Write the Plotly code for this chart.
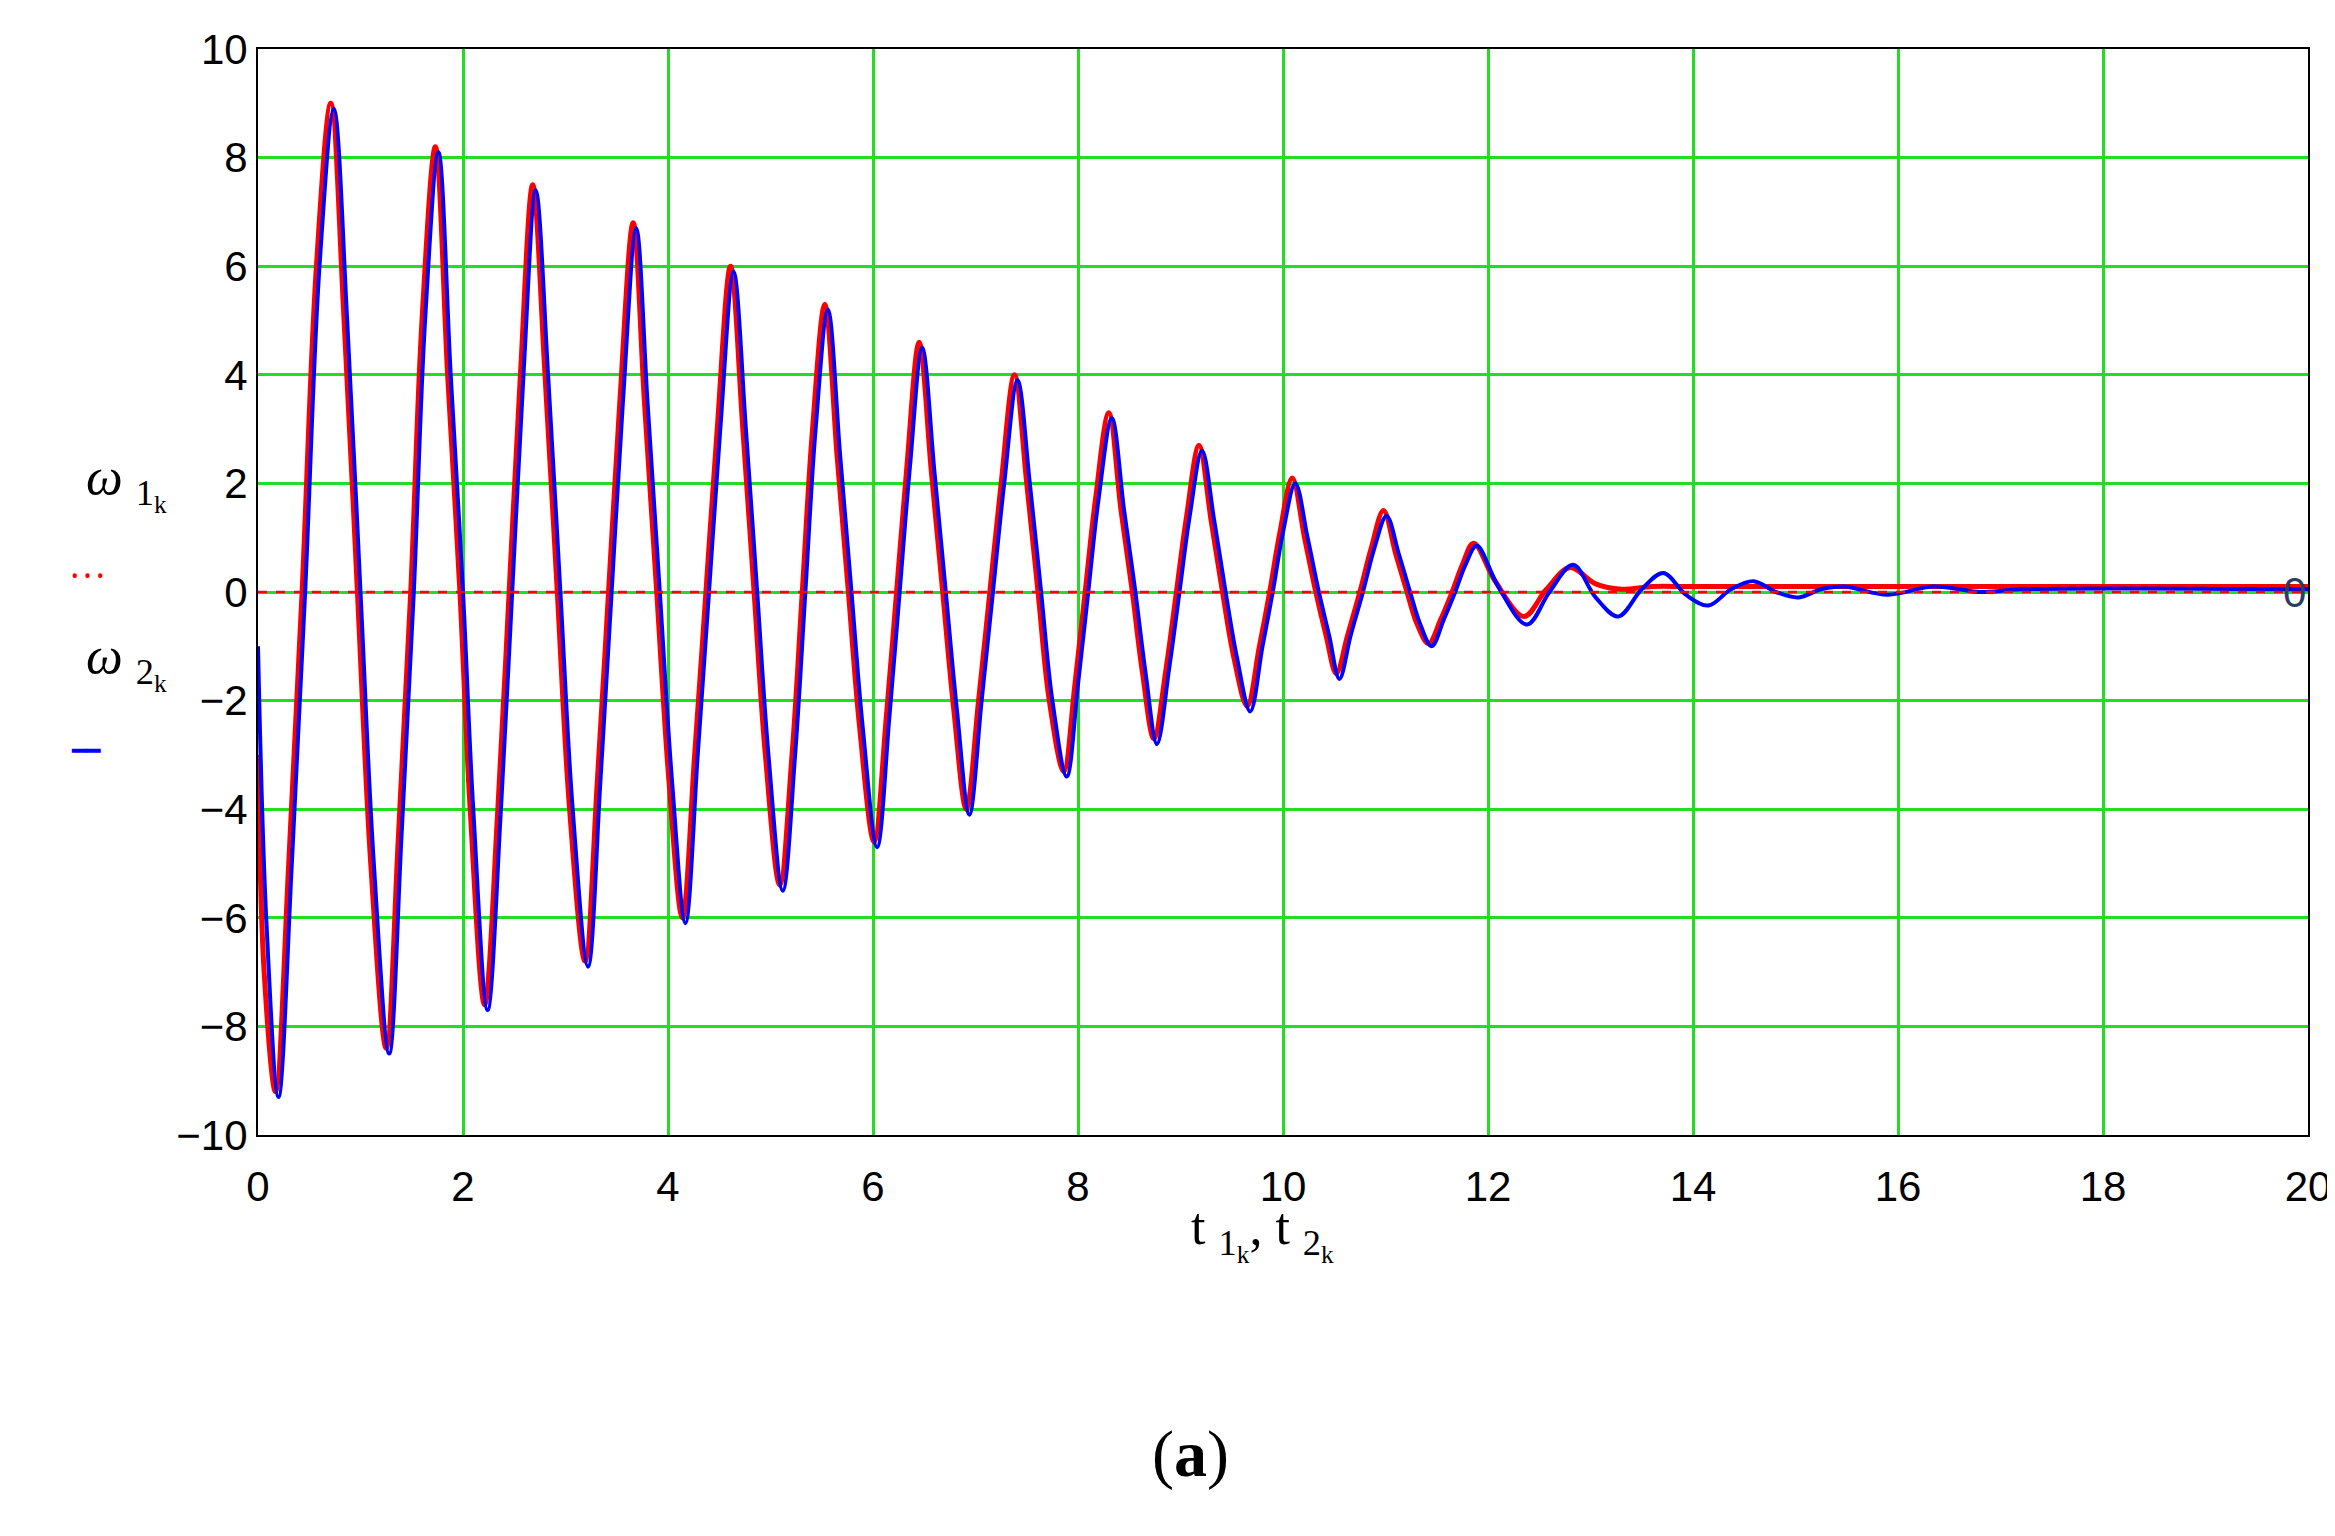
import plotly.graph_objects as go

t2 = [0,0.08,0.2,0.33,0.46,0.6,0.74,0.87,1.0,1.13,1.28,1.4,1.52,1.63,1.76,1.88,2.0,2.1,2.24,2.37,2.48,2.59,2.71,2.83,2.95,3.07,3.22,3.34,3.45,3.56,3.69,3.8,3.92,4.04,4.17,4.29,4.4,4.51,4.64,4.76,4.87,4.98,5.12,5.24,5.34,5.44,5.56,5.68,5.79,5.9,6.04,6.16,6.26,6.36,6.48,6.6,6.71,6.82,6.94,7.06,7.17,7.28,7.41,7.53,7.64,7.75,7.89,8.0,8.1,8.2,8.33,8.45,8.56,8.66,8.77,8.89,8.99,9.09,9.21,9.33,9.44,9.55,9.68,9.8,9.9,10.0,10.12,10.24,10.35,10.45,10.55,10.66,10.78,10.89,11.01,11.13,11.24,11.34,11.45,11.57,11.68,11.78,11.89,12.1,12.38,12.6,12.83,13.05,13.27,13.5,13.71,13.93,14.15,14.37,14.59,14.81,15.03,15.25,15.47,15.9,16.35,16.8,17.2,20]
w2 = [-1,-6,-9.3,-5,0,6,8.9,5,0,-5,-8.5,-4.5,0,5,8.1,4,0,-4,-7.7,-4,0,4,7.4,4,0,-4,-6.9,-3.5,0,3.5,6.7,3.5,0,-3.5,-6.1,-3,0,3,5.9,3,0,-3,-5.5,-3,0,3,5.2,2.5,0,-2.5,-4.7,-2.3,0,2.3,4.5,2.2,0,-2.2,-4.1,-2,0,2,3.9,2,0,-2,-3.4,-1.7,0,1.7,3.2,1.5,0,-1.5,-2.8,-1.4,0,1.4,2.6,1.3,0,-1.2,-2.2,-1,0,1.1,2.0,1,0,-0.8,-1.6,-0.8,0,0.8,1.4,0.7,0,-0.6,-1.0,-0.5,0,0.5,0.85,0.1,-0.6,0,0.5,-0.1,-0.45,0.05,0.35,-0.05,-0.25,0.05,0.2,0,-0.1,0.05,0.1,-0.05,0.1,0.0,0.05,0.05]

t1 = [0,0.06,0.17,0.3,0.43,0.57,0.71,0.84,0.97,1.1,1.25,1.37,1.49,1.6,1.73,1.85,1.97,2.07,2.21,2.34,2.45,2.56,2.68,2.8,2.92,3.04,3.19,3.31,3.42,3.53,3.66,3.77,3.89,4.01,4.14,4.26,4.37,4.48,4.61,4.73,4.84,4.95,5.09,5.21,5.31,5.41,5.53,5.65,5.76,5.87,6.01,6.13,6.23,6.33,6.45,6.57,6.68,6.79,6.91,7.03,7.14,7.25,7.38,7.5,7.61,7.72,7.86,7.97,8.07,8.17,8.3,8.42,8.53,8.63,8.74,8.86,8.96,9.06,9.18,9.3,9.41,9.52,9.65,9.77,9.87,9.97,10.09,10.21,10.32,10.42,10.52,10.63,10.75,10.86,10.98,11.1,11.21,11.31,11.42,11.54,11.65,11.75,11.86,12.07,12.35,12.57,12.8,13.05,13.3,13.6,14.0,20]
w1 = [-3,-7,-9.2,-5,0,6,9.0,5,0,-5,-8.4,-4.5,0,5,8.2,4,0,-4,-7.6,-4,0,4,7.5,4,0,-4,-6.8,-3.5,0,3.5,6.8,3.5,0,-3.5,-6.0,-3,0,3,6.0,3,0,-3,-5.4,-3,0,3,5.3,2.5,0,-2.5,-4.6,-2.3,0,2.3,4.6,2.2,0,-2.2,-4.0,-2,0,2,4.0,2,0,-2,-3.3,-1.7,0,1.7,3.3,1.5,0,-1.5,-2.7,-1.4,0,1.4,2.7,1.3,0,-1.2,-2.1,-1,0,1.1,2.1,1,0,-0.8,-1.5,-0.8,0,0.8,1.5,0.7,0,-0.6,-0.95,-0.5,0,0.5,0.9,0.2,-0.45,0.05,0.45,0.15,0.05,0.1,0.1,0.1]

xticks = list(range(0, 21, 2))
yticks = list(range(-10, 11, 2))

fig = go.Figure()
fig.add_hline(y=0, line=dict(color="red", width=2.5, dash="dash"))
fig.add_trace(go.Scatter(x=t1, y=w1, mode="lines", line=dict(color="red", width=5, shape="spline"), showlegend=False))
fig.add_trace(go.Scatter(x=t2, y=w2, mode="lines", line=dict(color="blue", width=4, shape="spline"), showlegend=False))

axis = dict(showgrid=True, gridcolor="#22dd22", gridwidth=3, zeroline=False,
            showline=True, linecolor="black", linewidth=2, mirror=True, ticks="",
            tickfont=dict(family="Liberation Sans", size=42, color="black"))
fig.update_xaxes(range=[0, 20], tickvals=xticks, ticklabelstandoff=14, **axis)
fig.update_yaxes(range=[-10, 10], tickvals=yticks, **axis)

f = dict(family="Liberation Serif", size=52, color="black")
fig.add_annotation(x=1.0, y=0, xref="paper", yref="y", text="0", showarrow=False, xanchor="right", font=dict(family="Liberation Sans", size=42))
fig.add_annotation(x=-0.085, y=0.6, xref="paper", yref="paper", text="<i>ω</i> <sub>1</sub><sub><sub>k</sub></sub>", showarrow=False, font=f)
fig.add_annotation(x=-0.092, y=0.515, xref="paper", yref="paper", text="<span style='color:red'>• • •</span>", showarrow=False, font=dict(size=20))
fig.add_annotation(x=-0.085, y=0.435, xref="paper", yref="paper", text="<i>ω</i> <sub>2</sub><sub><sub>k</sub></sub>", showarrow=False, font=f)
fig.add_annotation(x=-0.092, y=0.355, xref="paper", yref="paper", text="<span style='color:blue'>━━</span>", showarrow=False, font=dict(size=24))
fig.add_annotation(x=0.49, y=-0.125, xref="paper", yref="paper", text="t <sub>1</sub><sub><sub>k</sub></sub>, t <sub>2</sub><sub><sub>k</sub></sub>", showarrow=False, font=f)
fig.add_annotation(x=0.455, y=-0.33, xref="paper", yref="paper", text="(<b>a</b>)", showarrow=False, font=dict(family="Liberation Serif", size=66, color="black"))

fig.update_layout(width=2335, height=1536, margin=dict(l=250, r=32, t=41, b=409),
                  plot_bgcolor="white", paper_bgcolor="white")
fig.write_html("out.html")
